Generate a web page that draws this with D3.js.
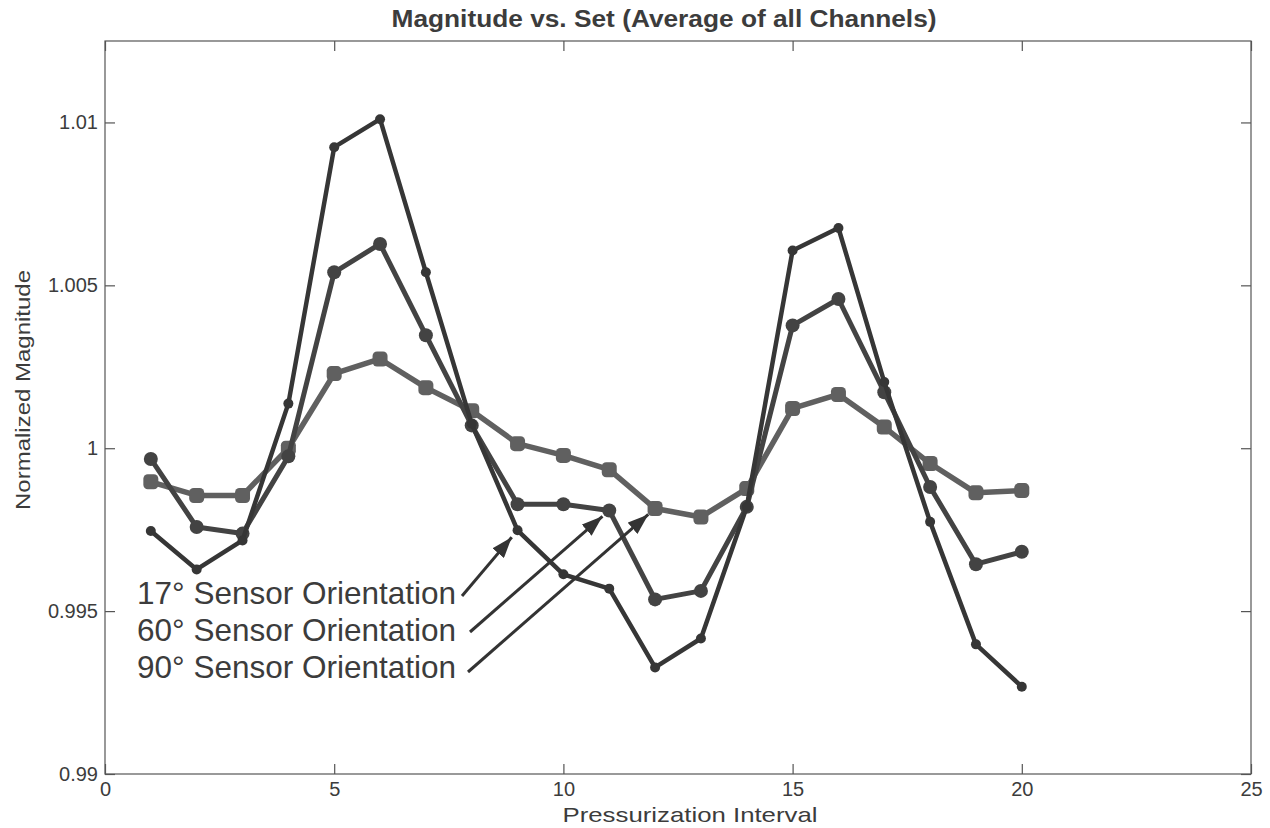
<!DOCTYPE html>
<html>
<head>
<meta charset="utf-8">
<script src="https://cdn.jsdelivr.net/npm/d3@7"></script>
<style>
  html, body { margin: 0; padding: 0; background: #fff; }
  svg { display: block; font-family: "Liberation Sans", Arial, sans-serif; }
</style>
</head>
<body>
<svg id="chart" width="1270" height="828"></svg>
<script>
// Pressurization intervals 1..20
const intervals = d3.range(1, 21);

// Normalized magnitude, averaged over all channels, per sensor orientation
const mag17 = [0.99746, 0.99628, 0.99717, 1.00137, 1.00924, 1.01010, 1.00540, 1.00075, 0.99748, 0.99613,
               0.99569, 0.99327, 0.99416, 0.99820, 1.00607, 1.00676, 1.00203, 0.99774, 0.99398, 0.99268];
const mag60 = [0.99967, 0.99758, 0.99738, 0.99975, 1.00540, 1.00627, 1.00347, 1.00070, 0.99828, 0.99828,
               0.99809, 0.99536, 0.99562, 0.99820, 1.00377, 1.00458, 1.00172, 0.99881, 0.99644, 0.99682];
const mag90 = [0.99897, 0.99855, 0.99855, 1.00000, 1.00229, 1.00274, 1.00186, 1.00115, 1.00014, 0.99978,
               0.99934, 0.99815, 0.99789, 0.99876, 1.00122, 1.00165, 1.00065, 0.99953, 0.99863, 0.99870];

const xTicks = [0, 5, 10, 15, 20, 25];
const yTicks = [0.99, 0.995, 1, 1.005, 1.01];
const yTickLabels = ["0.99", "0.995", "1", "1.005", "1.01"];

const titleText = "Magnitude vs. Set (Average of all Channels)";
const xLabel = "Pressurization Interval";
const yLabel = "Normalized Magnitude";

// Callouts: label text and the interval each arrow points at on its series
const callouts = [
  { text: "17° Sensor Orientation", series: mag17, at: 9 },
  { text: "60° Sensor Orientation", series: mag60, at: 11 },
  { text: "90° Sensor Orientation", series: mag90, at: 12 }
];

const svg = d3.select("#chart");
const plotLeft = 105, plotRight = 1251, plotTop = 41, plotBottom = 774;

const x = d3.scaleLinear().domain([0, 25]).range([plotLeft, plotRight]);
const y = d3.scaleLinear().domain([0.99, 1.0125]).range([plotBottom, plotTop]);

const axisColor = "#555";
const textColor = "#3c3c3c";

// Title
svg.append("text")
  .attr("x", 664).attr("y", 27)
  .attr("text-anchor", "middle")
  .attr("font-size", 23).attr("font-weight", "bold")
  .attr("textLength", 545).attr("lengthAdjust", "spacingAndGlyphs")
  .attr("fill", textColor)
  .text(titleText);

// Axes box with inward ticks on all four sides
function styleAxis(g) {
  g.selectAll(".domain").remove();
  g.selectAll(".tick line").attr("stroke", axisColor).attr("stroke-width", 1.2);
  g.selectAll(".tick text").attr("fill", textColor).attr("font-size", 20)
    .attr("font-family", "Liberation Sans, Arial, sans-serif");
}

svg.append("g").attr("transform", `translate(0,${plotBottom})`)
  .call(d3.axisBottom(x).tickValues(xTicks).tickSizeInner(-10).tickSizeOuter(0).tickPadding(8)
    .tickFormat(d3.format("d")))
  .call(styleAxis);

svg.append("g").attr("transform", `translate(0,${plotTop})`)
  .call(d3.axisTop(x).tickValues(xTicks).tickSizeInner(-10).tickSizeOuter(0).tickFormat(""))
  .call(styleAxis);

svg.append("g").attr("transform", `translate(${plotLeft},0)`)
  .call(d3.axisLeft(y).tickValues(yTicks).tickSizeInner(-10).tickSizeOuter(0).tickPadding(7)
    .tickFormat((d, i) => yTickLabels[i]))
  .call(styleAxis);

svg.append("g").attr("transform", `translate(${plotRight},0)`)
  .call(d3.axisRight(y).tickValues(yTicks).tickSizeInner(-10).tickSizeOuter(0).tickFormat(""))
  .call(styleAxis);

svg.append("rect")
  .attr("x", plotLeft).attr("y", plotTop)
  .attr("width", plotRight - plotLeft).attr("height", plotBottom - plotTop)
  .attr("fill", "none").attr("stroke", axisColor).attr("stroke-width", 1.2);

// Axis labels
svg.append("text")
  .attr("x", 690).attr("y", 822)
  .attr("text-anchor", "middle").attr("font-size", 21).attr("fill", textColor)
  .attr("textLength", 255).attr("lengthAdjust", "spacingAndGlyphs")
  .text(xLabel);

svg.append("text")
  .attr("transform", `translate(30,390) rotate(-90)`)
  .attr("text-anchor", "middle").attr("font-size", 21).attr("fill", textColor)
  .attr("textLength", 240).attr("lengthAdjust", "spacingAndGlyphs")
  .text(yLabel);

// Series
const line = d3.line().x((d, i) => x(intervals[i])).y(d => y(d));

function drawSeries(values, color, width, marker, size) {
  const g = svg.append("g");
  g.append("path").datum(values)
    .attr("d", line).attr("fill", "none")
    .attr("stroke", color).attr("stroke-width", width)
    .attr("stroke-linejoin", "round");
  if (marker === "square") {
    g.selectAll("rect").data(values).join("rect")
      .attr("x", (d, i) => x(intervals[i]) - size / 2)
      .attr("y", d => y(d) - size / 2)
      .attr("width", size).attr("height", size)
      .attr("rx", 4.5).attr("fill", color);
  } else {
    g.selectAll("circle").data(values).join("circle")
      .attr("cx", (d, i) => x(intervals[i]))
      .attr("cy", d => y(d))
      .attr("r", size).attr("fill", color);
  }
}

drawSeries(mag90, "#606060", 5.5, "square", 15);
drawSeries(mag60, "#434343", 5, "circle", 7);
drawSeries(mag17, "#363636", 4.5, "circle", 5);

// Callout labels with arrows
svg.append("defs").append("marker")
  .attr("id", "head").attr("viewBox", "0 0 14 10")
  .attr("refX", 14).attr("refY", 5)
  .attr("markerWidth", 7).attr("markerHeight", 5)
  .attr("markerUnits", "strokeWidth")
  .attr("orient", "auto")
  .append("path").attr("d", "M0,0 L14,5 L0,10 Z").attr("fill", "#333");

const labelX = 137, firstBaseline = 604, lineGap = 37;
const arrowStarts = [[462, 596], [470, 632], [468, 672]];
callouts.forEach((c, k) => {
  svg.append("text")
    .attr("x", labelX).attr("y", firstBaseline + k * lineGap)
    .attr("font-size", 31.5).attr("fill", textColor)
    .text(c.text);
  const tx = x(c.at), ty = y(c.series[c.at - 1]);
  const sx = arrowStarts[k][0], sy = arrowStarts[k][1];
  const ang = Math.atan2(ty - sy, tx - sx);
  const gap = 9;
  svg.append("line")
    .attr("x1", sx).attr("y1", sy)
    .attr("x2", tx - gap * Math.cos(ang)).attr("y2", ty - gap * Math.sin(ang))
    .attr("stroke", "#333").attr("stroke-width", 3)
    .attr("marker-end", "url(#head)");
});
</script>
</body>
</html>
